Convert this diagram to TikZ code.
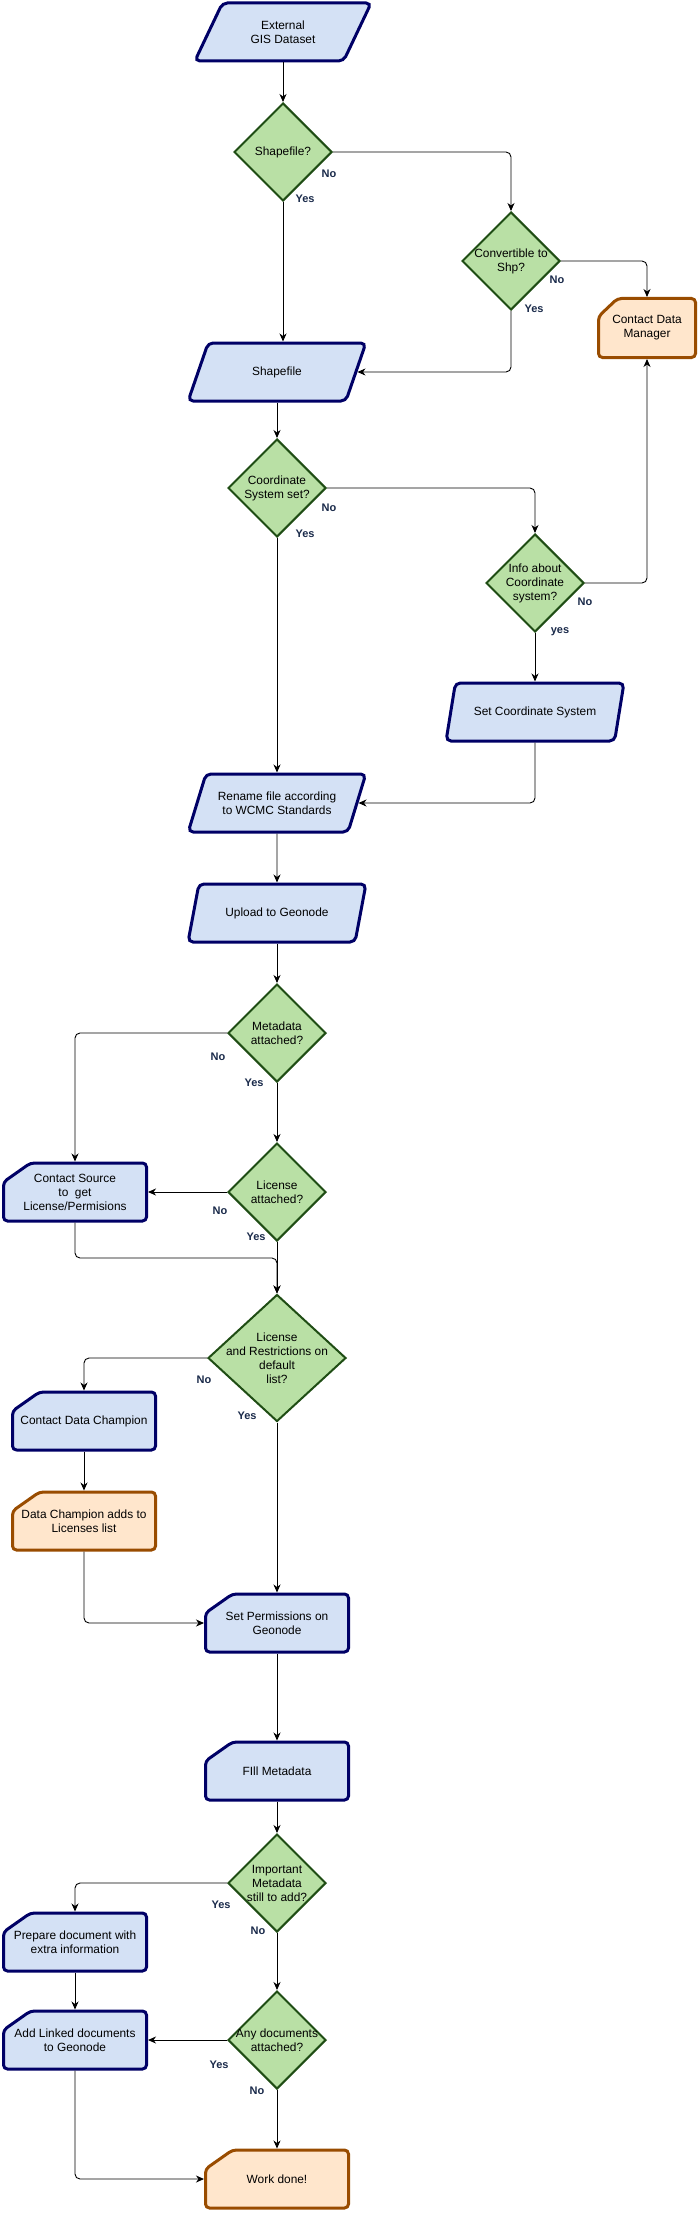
\documentclass[tikz,border=0pt]{standalone}
\usepackage{fontspec}
\setmainfont{Liberation Sans}
\usetikzlibrary{shapes.geometric, arrows.meta}
\definecolor{procfill}{HTML}{D4E1F5}
\definecolor{procline}{HTML}{000066}
\definecolor{askfill}{HTML}{B9E0A5}
\definecolor{askline}{HTML}{1F4D14}
\definecolor{endfill}{HTML}{FFE6CC}
\definecolor{endline}{HTML}{994C00}
\definecolor{lbltext}{HTML}{1A2A4A}
\makeatletter
\def\cardcutx{27pt}\def\cardcuty{19pt}
\pgfdeclareshape{card}{
  \inheritsavedanchors[from=rectangle]
  \inheritanchorborder[from=rectangle]
  \inheritanchor[from=rectangle]{center}
  \inheritanchor[from=rectangle]{north}
  \inheritanchor[from=rectangle]{south}
  \inheritanchor[from=rectangle]{east}
  \inheritanchor[from=rectangle]{west}
  \inheritanchor[from=rectangle]{north east}
  \inheritanchor[from=rectangle]{north west}
  \inheritanchor[from=rectangle]{south east}
  \inheritanchor[from=rectangle]{south west}
  \backgroundpath{
    \pgfmathsetlength\pgfutil@tempdima{\pgfkeysvalueof{/pgf/outer xsep}}
    \pgfmathsetlength\pgfutil@tempdimb{\pgfkeysvalueof{/pgf/outer ysep}}
    \southwest \advance\pgf@x by\pgfutil@tempdima \advance\pgf@y by\pgfutil@tempdimb
    \edef\cxa{\the\pgf@x}\edef\cya{\the\pgf@y}
    \northeast \advance\pgf@x by-\pgfutil@tempdima \advance\pgf@y by-\pgfutil@tempdimb
    \edef\cxb{\the\pgf@x}\edef\cyb{\the\pgf@y}
    \pgfpathmoveto{\pgfpoint{0pt}{\cya}}
    \pgfpathlineto{\pgfpoint{\cxb}{\cya}}
    \pgfpathlineto{\pgfpoint{\cxb}{\cyb}}
    \pgfpathlineto{\pgfpoint{\cxa+\cardcutx}{\cyb}}
    \pgfpathlineto{\pgfpoint{\cxa}{\cyb-\cardcuty}}
    \pgfpathlineto{\pgfpoint{\cxa}{\cya}}
    \pgfpathclose
  }
}
\makeatother

\begin{document}
\begin{tikzpicture}[x=1pt, y=-1pt,
  every node/.style={font=\fontsize{11.9}{14}\selectfont, align=center},
  card cut/.code 2 args={\def\cardcutx{#1}\def\cardcuty{#2}},
  para/.style={trapezium, trapezium left angle=57, trapezium right angle=123, trapezium stretches=true, minimum width=178pt, minimum height=58pt, draw=procline, fill=procfill, line width=3pt, rounded corners=5pt, inner sep=0pt},
  task/.style={card, minimum width=143pt, minimum height=58pt, draw=procline, fill=procfill, line width=3pt, rounded corners=4pt, inner sep=0pt},
  endtask/.style={task, draw=endline, fill=endfill},
  ask/.style={diamond, minimum width=98pt, minimum height=98pt, draw=askline, fill=askfill, line width=2pt, inner xsep=-12pt, inner ysep=-6pt},
  lbl/.style={font=\fontsize{11}{13}\selectfont\bfseries, text=lbltext, inner sep=0pt},
  flow/.style={-{Stealth[length=8pt, width=7pt, inset=2.5pt]}, line width=.9pt, rounded corners=5pt}]
      \useasboundingbox (0, 0) rectangle (700, 2215);
      \node [para] (ext) at (283, 32) {External\\GIS Dataset};
      \node [ask] (shq) at (283, 152) {Shapefile?};
      \node [ask] (cnv) at (511, 261) {Convertible to\\Shp?};
      \node [endtask, minimum width=97pt, minimum height=59pt, card cut={19pt}{18pt}] (cdm) at (647, 328) {Contact Data\\Manager};
      \node [para] (shp) at (277, 372) {Shapefile};
      \node [ask] (crs) at (277, 488) {Coordinate\\System set?};
      \node [ask] (inf) at (535, 583) {Info about\\Coordinate\\system?};
      \node [para] (scs) at (535, 712) {Set Coordinate System};
      \node [para] (ren) at (277, 803) {Rename file according\\to WCMC Standards};
      \node [para] (upl) at (277, 913) {Upload to Geonode};
      \node [ask] (met) at (277, 1033) {Metadata\\attached?};
      \node [ask] (lic) at (277, 1192) {License\\attached?};
      \node [task] (src) at (75, 1192) {Contact Source\\to\ \ get\\License/Permisions};
      \node [ask, minimum width=138pt, minimum height=127pt] (lst) at (277, 1358) {License\\and Restrictions on\\default\\list?};
      \node [task] (chp) at (84, 1421) {Contact Data Champion};
      \node [endtask] (dca) at (84, 1521) {Data Champion adds to\\Licenses list};
      \node [task] (prm) at (277, 1623) {Set Permissions on\\Geonode};
      \node [task] (fil) at (277, 1771) {FIll Metadata};
      \node [ask] (imp) at (277, 1883) {Important\\Metadata\\still to add?};
      \node [task] (prp) at (75, 1942) {Prepare document with\\extra information};
      \node [ask] (doc) at (277, 2040) {Any documents\\attached?};
      \node [task] (lnk) at (75, 2040) {Add Linked documents\\to Geonode};
      \node [endtask] (end) at (277, 2179) {Work done!};
      \coordinate (mrg) at (277, 1258);
      \node [lbl] (shqno) at (329, 174) {No};
      \node [lbl] (shqyes) at (305, 199) {Yes};
      \node [lbl] (cnvno) at (557, 280) {No};
      \node [lbl] (cnvyes) at (534, 309) {Yes};
      \node [lbl] (crsno) at (329, 508) {No};
      \node [lbl] (crsyes) at (305, 534) {Yes};
      \node [lbl] (infno) at (585, 602) {No};
      \node [lbl] (infyes) at (560, 632) {yes};
      \node [lbl] (metno) at (218, 1057) {No};
      \node [lbl] (metyes) at (254, 1083) {Yes};
      \node [lbl] (licno) at (220, 1211) {No};
      \node [lbl] (licyes) at (256, 1237) {Yes};
      \node [lbl] (lstno) at (204, 1380) {No};
      \node [lbl] (lstyes) at (247, 1416) {Yes};
      \node [lbl] (impyes) at (221, 1905) {Yes};
      \node [lbl] (impno) at (258, 1931) {No};
      \node [lbl] (docyes) at (219, 2065) {Yes};
      \node [lbl] (docno) at (257, 2091) {No};
      \draw [flow] (ext) -- (shq);
      \draw [flow] (shq) -| (cnv);
      \draw [flow] (shq.south) -- (shq.south |- shp.north);
      \draw [flow] (cnv) -| (cdm);
      \draw [flow] (cnv) |- (shp);
      \draw [flow] (shp) -- (crs);
      \draw [flow] (crs) -| (inf);
      \draw [flow] (crs) -- (ren);
      \draw [flow] (inf) -| (cdm);
      \draw [flow] (inf) -- (scs);
      \draw [flow] (scs) |- (ren);
      \draw [flow] (ren) -- (upl);
      \draw [flow] (upl) -- (met);
      \draw [flow] (met) -| (src);
      \draw [flow] (met) -- (lic);
      \draw [flow] (lic) -- (src);
      \draw [flow] (lic) -- (lst);
      \draw [flow] (src) |- (mrg) -- (lst);
      \draw [flow] (lst) -| (chp);
      \draw [flow] (lst) -- (prm);
      \draw [flow] (chp) -- (dca);
      \draw [flow] (dca) |- (prm);
      \draw [flow] (prm) -- (fil);
      \draw [flow] (fil) -- (imp);
      \draw [flow] (imp) -| (prp);
      \draw [flow] (imp) -- (doc);
      \draw [flow] (prp) -- (lnk);
      \draw [flow] (doc) -- (lnk);
      \draw [flow] (doc) -- (end);
      \draw [flow] (lnk) |- (end);
    \end{tikzpicture}
\end{document}
